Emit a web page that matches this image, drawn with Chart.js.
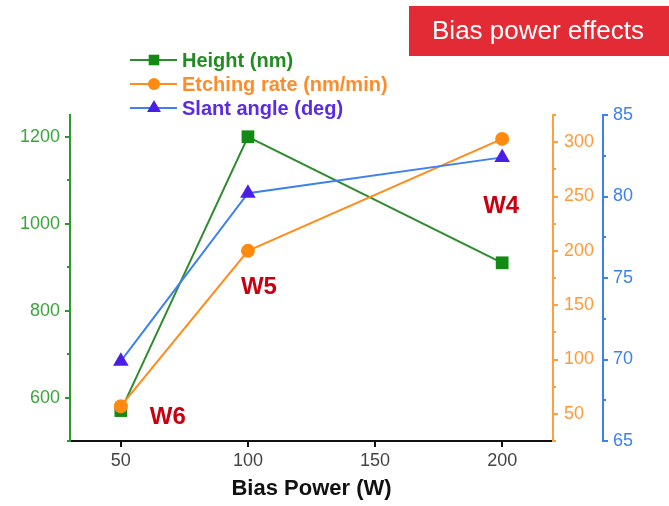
<!DOCTYPE html>
<html>
<head>
<meta charset="utf-8">
<script src="https://cdn.jsdelivr.net/npm/chart.js@4.4.1/dist/chart.umd.min.js"></script>
<style>
html, body { margin: 0; padding: 0; background: #fff; }
#wrap { width: 669px; height: 506px; }
</style>
</head>
<body>
<div id="wrap"><canvas id="myChart" width="669" height="506"></canvas></div>
<script>
const biasPower = [50, 100, 200];
const heightNm = [570, 1200, 910];
const etchRate = [57, 200, 303];
const slantDeg = [69.9, 80.2, 82.4];

const xTicks = [50, 100, 150, 200];
const heightTicks = [600, 800, 1000, 1200];
const etchTicks = [50, 100, 150, 200, 250, 300];
const slantTicks = [65, 70, 75, 80, 85];

const waferLabels = ['W6', 'W5', 'W4'];

const FONT = '"Liberation Sans", Arial, Helvetica, sans-serif';

function pairs(ys) {
    return biasPower.map((x, i) => ({ x: x, y: ys[i] }));
}

function fixTicks(list) {
    return function(scale) {
        scale.ticks = list.map(v => ({ value: v }));
    };
}

const plain = v => String(v);

function drawMarker(ctx, style, x, y, r, color) {
    ctx.fillStyle = color;
    ctx.beginPath();
    if (style === 'rect') {
        const s = r * Math.SQRT1_2;
        ctx.rect(x - s, y - s, 2 * s, 2 * s);
    } else if (style === 'circle') {
        ctx.arc(x, y, r, 0, Math.PI * 2);
    } else {
        ctx.moveTo(x, y - r);
        ctx.lineTo(x + r * 0.866, y + r * 0.5);
        ctx.lineTo(x - r * 0.866, y + r * 0.5);
        ctx.closePath();
    }
    ctx.fill();
}

// title box, legend, wafer labels and minor ticks
const decor = {
    id: 'decor',
    afterDraw(chart) {
        const ctx = chart.ctx;
        const sc = chart.scales;
        ctx.save();

        // minor ticks at half steps
        ['y', 'y1', 'y2'].forEach(id => {
            const s = sc[id];
            const vals = s.ticks.map(t => t.value);
            const half = (vals[1] - vals[0]) / 2;
            const minors = [];
            vals.forEach(v => {
                [v - half, v + half].forEach(m => {
                    if (m >= s.min && m <= s.max && !vals.includes(m) && !minors.includes(m)) minors.push(m);
                });
            });
            const x0 = id === 'y' ? s.right : s.left;
            const dir = id === 'y' ? -1 : 1;
            ctx.strokeStyle = s.options.border.color;
            ctx.lineWidth = 2;
            minors.forEach(m => {
                const py = Math.round(s.getPixelForValue(m));
                ctx.beginPath();
                ctx.moveTo(x0, py);
                ctx.lineTo(x0 + dir * 3, py);
                ctx.stroke();
            });
        });

        // title box
        ctx.fillStyle = '#e32b36';
        ctx.fillRect(409, 6, 260, 50);
        ctx.fillStyle = '#ffffff';
        ctx.font = '26px ' + FONT;
        ctx.textAlign = 'center';
        ctx.textBaseline = 'middle';
        ctx.fillText('Bias power effects', 538, 32);

        // legend
        ctx.textAlign = 'left';
        ctx.font = 'bold 20px ' + FONT;
        chart.data.datasets.forEach((ds, i) => {
            const ly = 60 + i * 24;
            ctx.strokeStyle = ds.borderColor;
            ctx.lineWidth = 2;
            ctx.beginPath();
            ctx.moveTo(130, ly);
            ctx.lineTo(177, ly);
            ctx.stroke();
            drawMarker(ctx, ds.pointStyle, 154, ly, ds.legendRadius, ds.pointBackgroundColor);
            ctx.fillStyle = ds.legendColor;
            ctx.fillText(ds.label, 182, ly + 1);
        });

        // wafer labels
        const spots = [[68.5, 555], [104.3, 854], [199.6, 1039]];
        ctx.fillStyle = '#c8000f';
        ctx.font = 'bold 24px ' + FONT;
        ctx.textAlign = 'center';
        waferLabels.forEach((t, i) => {
            ctx.fillText(t, sc.x.getPixelForValue(spots[i][0]), sc.y.getPixelForValue(spots[i][1]));
        });

        ctx.restore();
    }
};

new Chart(document.getElementById('myChart'), {
    type: 'line',
    data: {
        datasets: [{
            label: 'Height (nm)',
            data: pairs(heightNm),
            yAxisID: 'y',
            borderColor: '#2e8b2e',
            borderWidth: 2,
            pointStyle: 'rect',
            pointRadius: 9,
            pointBackgroundColor: '#138a13',
            pointBorderWidth: 0,
            legendColor: '#228b22',
            legendRadius: 7.5,
            order: 2
        }, {
            label: 'Etching rate (nm/min)',
            data: pairs(etchRate),
            yAxisID: 'y1',
            borderColor: '#ff8c1a',
            borderWidth: 2,
            pointStyle: 'circle',
            pointRadius: 7,
            pointBackgroundColor: '#ff8a10',
            pointBorderWidth: 0,
            legendColor: '#ff8c2a',
            legendRadius: 6,
            order: 1
        }, {
            label: 'Slant angle (deg)',
            data: pairs(slantDeg),
            yAxisID: 'y2',
            borderColor: '#3d80f0',
            borderWidth: 2,
            pointStyle: 'triangle',
            pointRadius: 9,
            pointBackgroundColor: '#4a1ee6',
            pointBorderWidth: 0,
            legendColor: '#5a2ae6',
            legendRadius: 8,
            order: 0
        }]
    },
    options: {
        responsive: false,
        animation: false,
        layout: {
            padding: { top: 115, left: 0, right: 16, bottom: 4 }
        },
        plugins: {
            legend: { display: false },
            tooltip: { enabled: false }
        },
        elements: {
            line: { tension: 0 }
        },
        scales: {
            x: {
                type: 'linear',
                min: 30,
                max: 220,
                afterBuildTicks: fixTicks(xTicks),
                afterFit: s => { s.height = 61; },
                border: { display: true, color: '#111', width: 2 },
                grid: { display: true, drawOnChartArea: false, drawTicks: true, tickLength: 6, color: '#111', lineWidth: 2 },
                ticks: { color: '#444', font: { family: FONT, size: 18 }, padding: 3, maxRotation: 0, autoSkip: false, callback: plain },
                title: { display: true, text: 'Bias Power (W)', color: '#111', font: { family: FONT, size: 22, weight: 'bold' }, padding: { top: 2, bottom: 0 } }
            },
            y: {
                type: 'linear',
                position: 'left',
                min: 500,
                max: 1250,
                afterBuildTicks: fixTicks(heightTicks),
                afterFit: s => { s.width = 70; },
                border: { display: true, color: '#2a9a2a', width: 2 },
                grid: { display: true, drawOnChartArea: false, drawTicks: true, tickLength: 5, color: '#2a9a2a', lineWidth: 2 },
                ticks: { color: '#3aa53a', font: { family: FONT, size: 18 }, padding: 5, autoSkip: false, callback: plain }
            },
            y1: {
                type: 'linear',
                position: 'right',
                min: 25,
                max: 325,
                afterBuildTicks: fixTicks(etchTicks),
                afterFit: s => { s.width = 50; },
                border: { display: true, color: '#ffa040', width: 2 },
                grid: { display: true, drawOnChartArea: false, drawTicks: true, tickLength: 5, color: '#ffa040', lineWidth: 2 },
                ticks: { color: '#ff9a3a', font: { family: FONT, size: 18 }, padding: 6, autoSkip: false, callback: plain }
            },
            y2: {
                type: 'linear',
                position: 'right',
                min: 65,
                max: 85,
                afterBuildTicks: fixTicks(slantTicks),
                afterFit: s => { s.width = 50; },
                border: { display: true, color: '#3d80f0', width: 2 },
                grid: { display: true, drawOnChartArea: false, drawTicks: true, tickLength: 5, color: '#3d80f0', lineWidth: 2 },
                ticks: { color: '#3d80f0', font: { family: FONT, size: 18 }, padding: 5, autoSkip: false, callback: plain }
            }
        }
    },
    plugins: [decor]
});
</script>
</body>
</html>
